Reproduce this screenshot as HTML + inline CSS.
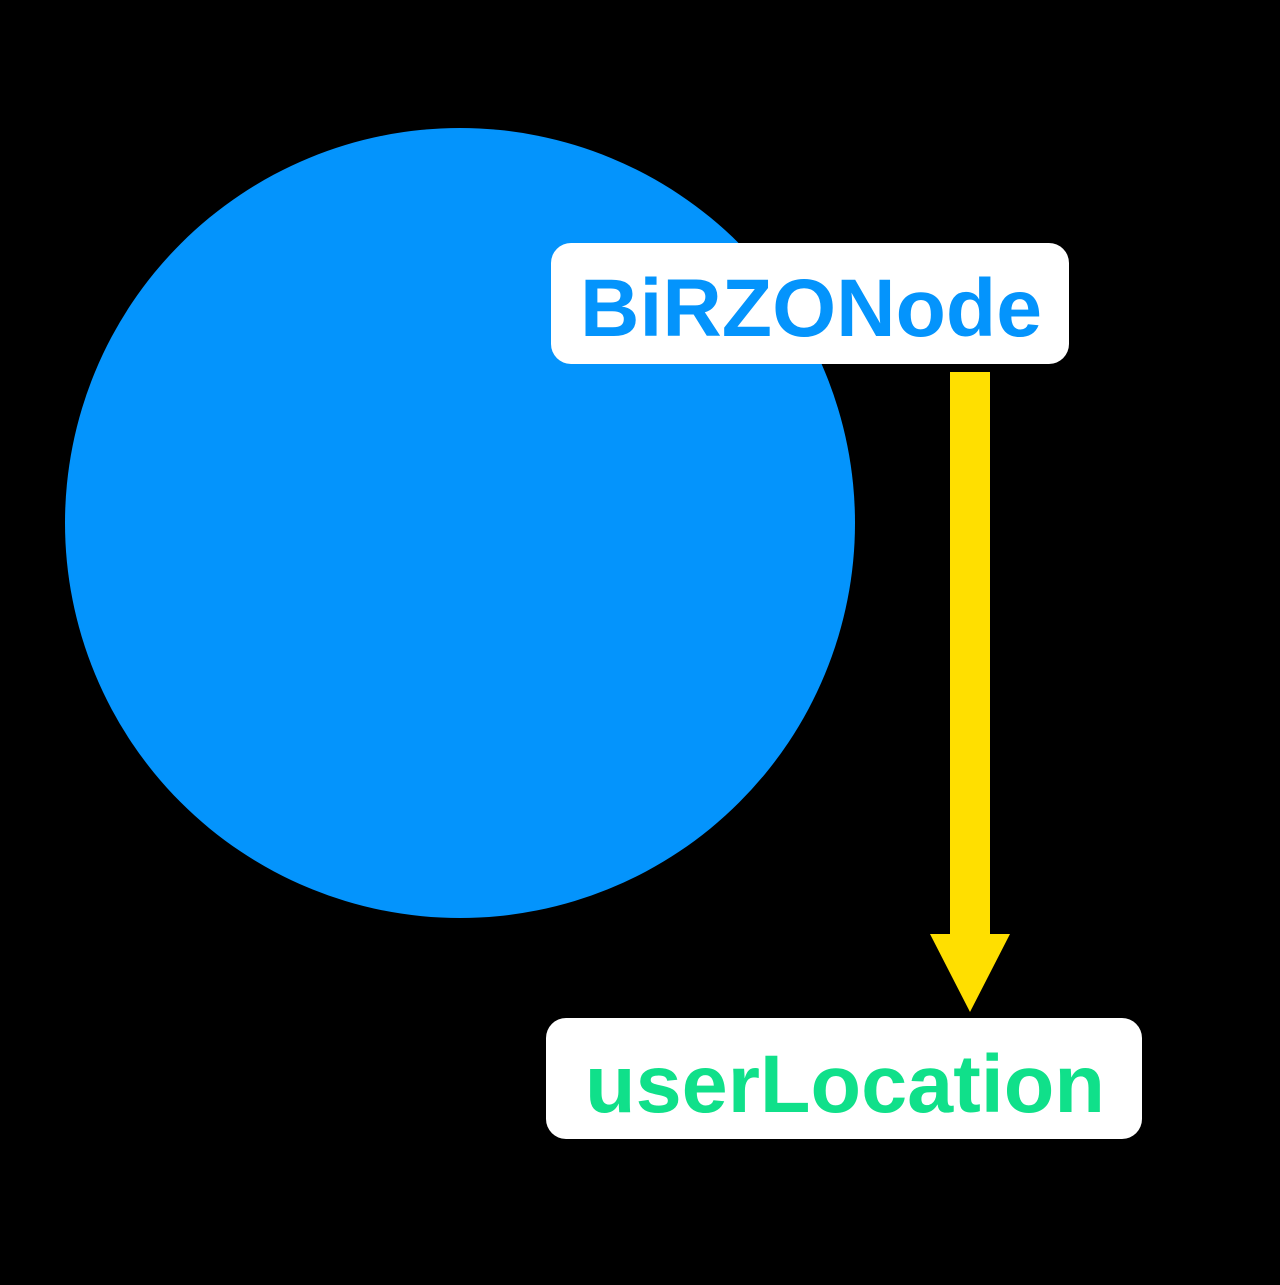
<!DOCTYPE html>
<html><head><style>html,body{margin:0;padding:0;background:#000;}</style></head>
<body>
<svg width="1280" height="1280" viewBox="0 0 1280 1280" xmlns="http://www.w3.org/2000/svg">
<rect width="1280" height="1280" fill="#000"/>
<circle cx="460" cy="523" r="395" fill="#0494fc"/>
<rect x="551" y="243" width="518" height="121" rx="20" fill="#fff"/>
<text x="580" y="336" font-family="Liberation Sans, sans-serif" font-weight="bold" font-size="82" fill="#0494fc" textLength="462" lengthAdjust="spacingAndGlyphs">BiRZONode</text>
<rect x="950" y="372" width="40" height="565" fill="#ffdf00"/>
<polygon points="930,934 1010,934 970,1012" fill="#ffdf00"/>
<rect x="546" y="1018" width="596" height="121" rx="20" fill="#fff"/>
<text x="585" y="1112" font-family="Liberation Sans, sans-serif" font-weight="bold" font-size="82" fill="#10e08a" textLength="520" lengthAdjust="spacingAndGlyphs">userLocation</text>
</svg>
</body></html>
